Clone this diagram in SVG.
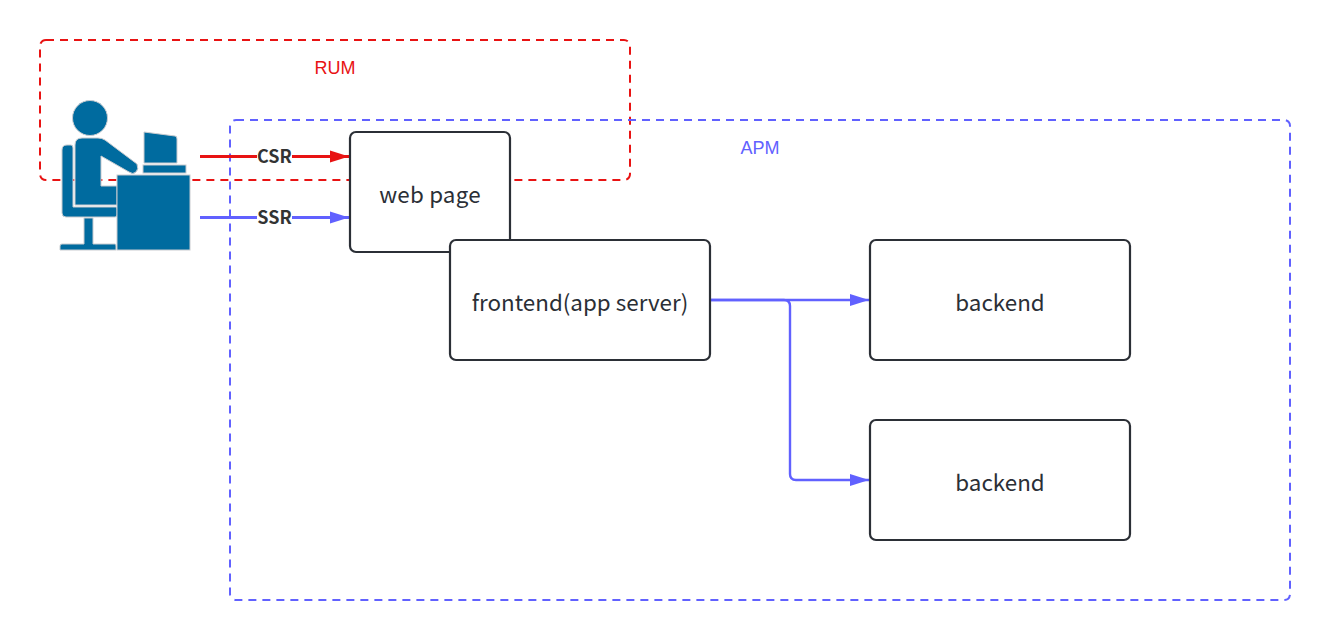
<svg xmlns="http://www.w3.org/2000/svg" width="1330" height="640" viewBox="0 0 1330 640">
<style>
.node{fill:#fff;stroke:#2b2f36;stroke-width:2.2}
.t{font-family:"Noto Sans CJK SC","Noto Sans",sans-serif;font-size:22.4px;fill:#2b2f36;text-anchor:middle}
.e{font-family:"Noto Sans CJK SC","Noto Sans",sans-serif;font-size:18px;font-weight:700;fill:#333;text-anchor:middle}
.z{font-family:"Liberation Sans",Arial,sans-serif;font-size:18px;text-anchor:middle}
.fig{fill:#006b9f;stroke:#c9ccd0;stroke-width:1}
.c{fill:none;stroke-width:2.4}
.thick{stroke-width:3}
</style>
<defs>
<marker id="r" markerUnits="userSpaceOnUse" markerWidth="20" markerHeight="14" refX="19" refY="7" orient="auto"><path d="M0 1 L19 7 L0 13Z" fill="#e81313"/></marker>
<marker id="b" markerUnits="userSpaceOnUse" markerWidth="20" markerHeight="14" refX="19" refY="7" orient="auto"><path d="M0 1 L19 7 L0 13Z" fill="#6161ff"/></marker>
</defs>
<g id="rum"><rect x="40" y="40" width="590" height="140" rx="6" fill="none" stroke="#e81313" stroke-width="2" stroke-dasharray="8 6"/><text class="z" x="335" y="74" fill="#e81313">RUM</text></g>
<g id="apm"><rect x="230" y="120" width="1060" height="480" rx="6" fill="none" stroke="#6161ff" stroke-width="2" stroke-dasharray="8 6"/><text class="z" x="760" y="154" fill="#6161ff">APM</text></g>
<g id="user">
<circle class="fig" cx="90" cy="118" r="17.500"/>
<path class="fig" d="M62 150Q62 145 67 145H71Q73 145 73 148V207H116Q117 207 117 209V215Q117 217 115 217H66Q62 217 62 213Z"/>
<path class="fig" d="M75 145Q75 138 82 138H98Q102 138 105 140L137 164Q139 169 136 172Q133 175 129 172L101 156V186H117V205H75Z"/>
<path class="fig" d="M84 218H93V244H115Q116 244 116 246V250H60V246Q60 244 62 244H84Z"/>
<path class="fig" d="M144 132L175 136Q177 136 177 139V163H144Z"/>
<rect class="fig" x="143" y="165" width="43" height="8"/>
<rect class="fig" x="117" y="175" width="73" height="75"/>
</g>
<g id="connectors">
<path class="c thick" stroke="#e81313" d="M200 156.500H349" marker-end="url(#r)"/>
<path class="c thick" stroke="#6161ff" d="M200 217.500H349" marker-end="url(#b)"/>
<path class="c" stroke="#6161ff" d="M710 300H869" marker-end="url(#b)"/>
<path class="c" stroke="#6161ff" d="M710 300H784Q790 300 790 306V474Q790 480 796 480H869" marker-end="url(#b)"/>
</g>
<g id="edge-labels">
<rect x="257" y="146" width="35" height="22" fill="#fff"/><text class="e" x="274.500" y="163">CSR</text>
<rect x="257" y="207" width="35" height="22" fill="#fff"/><text class="e" x="274.500" y="224">SSR</text>
</g>
<g id="webpage"><rect class="node" x="350" y="132" width="160" height="120" rx="6"/><text class="t" x="430" y="203" letter-spacing="0.2">web page</text></g>
<g id="frontend"><rect class="node" x="450" y="240" width="260" height="120" rx="6"/><text class="t" x="580" y="311">frontend(app server)</text></g>
<g id="backend1"><rect class="node" x="870" y="240" width="260" height="120" rx="6"/><text class="t" x="1000" y="311">backend</text></g>
<g id="backend2"><rect class="node" x="870" y="420" width="260" height="120" rx="6"/><text class="t" x="1000" y="491">backend</text></g>
</svg>
